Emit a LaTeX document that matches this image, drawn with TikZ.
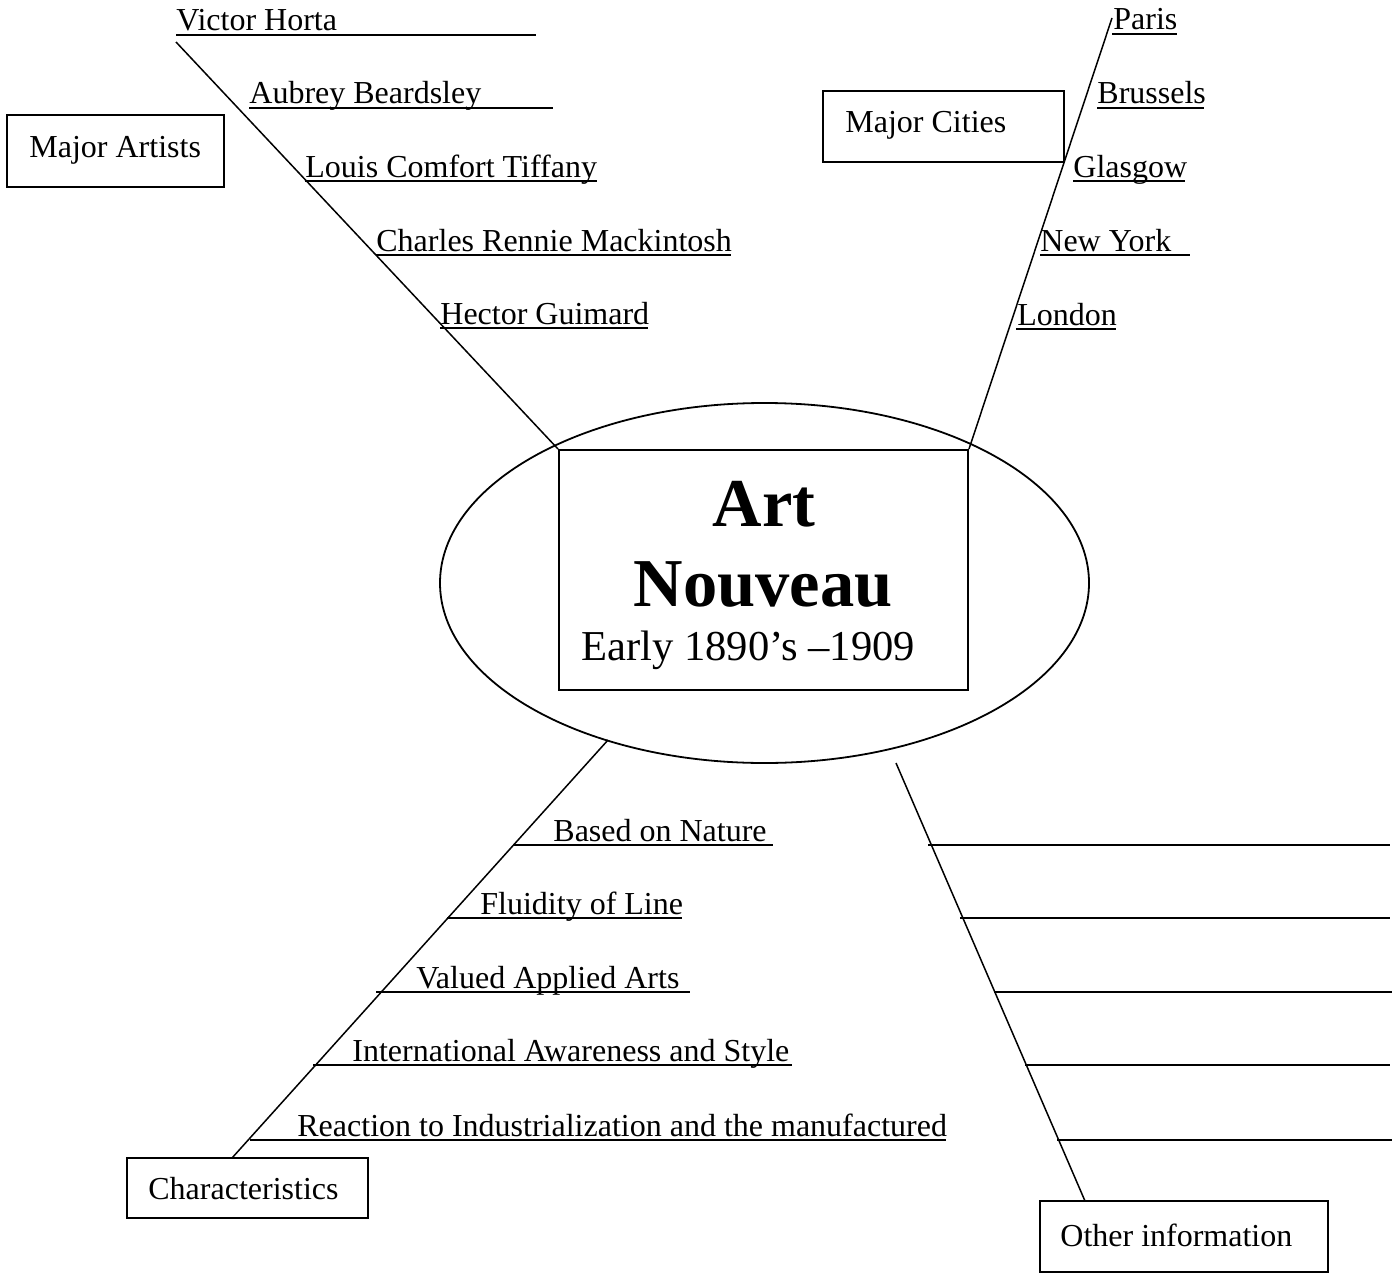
\documentclass[tikz,border=0pt]{standalone}
\usepackage{fontspec}
\setmainfont{Liberation Serif}
\usetikzlibrary{shapes.geometric}
\tikzset{
  lab/.style={anchor=base west, inner sep=0pt, font=\fontsize{16}{19}\selectfont},
  uline/.style={line width=0.9pt},
  spine/.style={line width=0.75pt},
  boxed/.style={draw, line width=1pt, inner sep=0pt},
}
\newcommand\ulab[6]{%
  \node[lab] (#1) at (#2,#3) {#6};
  \coordinate (#1s) at (#4,#3+4);
  \coordinate (#1e) at (#5,#3+4);
  \draw[uline] (#1s) -- (#1e);
}
\begin{document}
\begin{tikzpicture}[x=0.5pt, y=-0.5pt]
\useasboundingbox (0,0) rectangle (1397,1279);

% central ellipse and box
\node[ellipse, draw, line width=0.9pt, minimum width=324.5pt, minimum height=180pt, inner sep=0pt] (ell) at (764.5,583) {};
\node[boxed, minimum width=204.5pt, minimum height=120pt] (center) at (763.5,570) {};
\node[anchor=base, inner sep=0pt, font=\fontsize{34.25}{40}\selectfont\bfseries] (art) at (764,526) {Art};
\node[anchor=base, inner sep=0pt, font=\fontsize{34.25}{40}\selectfont\bfseries] (nouveau) at (763,606) {Nouveau};
\node[anchor=base west, inner sep=0pt, font=\fontsize{21.3}{25}\selectfont] (dates) at (581,660) {Early 1890’s –1909};

% category boxes
\node[boxed, minimum width=108.5pt, minimum height=36pt] (artbox) at (115.5,151) {};
\node[lab] (artlab) at (29,157) {Major Artists};
\node[boxed, minimum width=120.5pt, minimum height=35.5pt] (citybox) at (943.5,126.5) {};
\node[lab] (citylab) at (845,133) {Major Cities};
\node[boxed, minimum width=120.5pt, minimum height=30pt] (charbox) at (247.5,1188) {};
\node[lab] (charlab) at (148,1199) {Characteristics};
\node[boxed, minimum width=144pt, minimum height=35.5pt] (otherbox) at (1184,1236.5) {};
\node[lab] (otherlab) at (1060,1246) {Other information};

% spines
\coordinate (artTop) at (176,42);
\coordinate (cityTop) at (1112,18);
\coordinate (charTop) at (608,740);
\coordinate (charBot) at (232,1158);
\coordinate (otherTop) at (896,763);
\coordinate (otherBot) at (1085,1201);
\draw[spine] (artTop) -- (center.north west);
\draw[spine] (cityTop) -- (center.north east);
\draw[spine] (charTop) -- (charBot);
\draw[spine] (otherTop) -- (otherBot);

% artists
\ulab{a1}{176}{31}{176}{536}{Victor Horta}
\ulab{a2}{249}{104}{249}{553}{Aubrey Beardsley}
\ulab{a3}{305}{177}{305}{597}{Louis Comfort Tiffany}
\ulab{a4}{376}{251}{376}{731}{Charles Rennie Mackintosh}
\ulab{a5}{440}{324}{440}{648}{Hector Guimard}

% cities
\ulab{c1}{1113}{30}{1112}{1177}{Paris}
\ulab{c2}{1097}{104}{1097}{1204}{Brussels}
\ulab{c3}{1073}{177}{1073}{1185}{Glasgow}
\ulab{c4}{1040}{251}{1040}{1190}{New York}
\ulab{c5}{1017}{325}{1016}{1116}{London}

% characteristics
\ulab{h1}{553}{841}{514}{773}{Based on Nature}
\ulab{h2}{480}{914}{447}{682}{Fluidity of Line}
\ulab{h3}{416}{988}{376}{690}{Valued Applied Arts}
\ulab{h4}{352}{1061}{313}{792}{International Awareness and Style}
\ulab{h5}{297}{1136}{250}{946}{Reaction to Industrialization and the manufactured}

% other information blank lines
\foreach \i/\y/\xs/\xe in {1/845/928/1390, 2/918/960/1390, 3/992/994/1392, 4/1065/1025/1390, 5/1140/1057/1392}{
  \coordinate (o\i s) at (\xs,\y);
  \coordinate (o\i e) at (\xe,\y);
  \draw[line width=0.75pt] (o\i s) -- (o\i e);
}
\end{tikzpicture}
\end{document}
